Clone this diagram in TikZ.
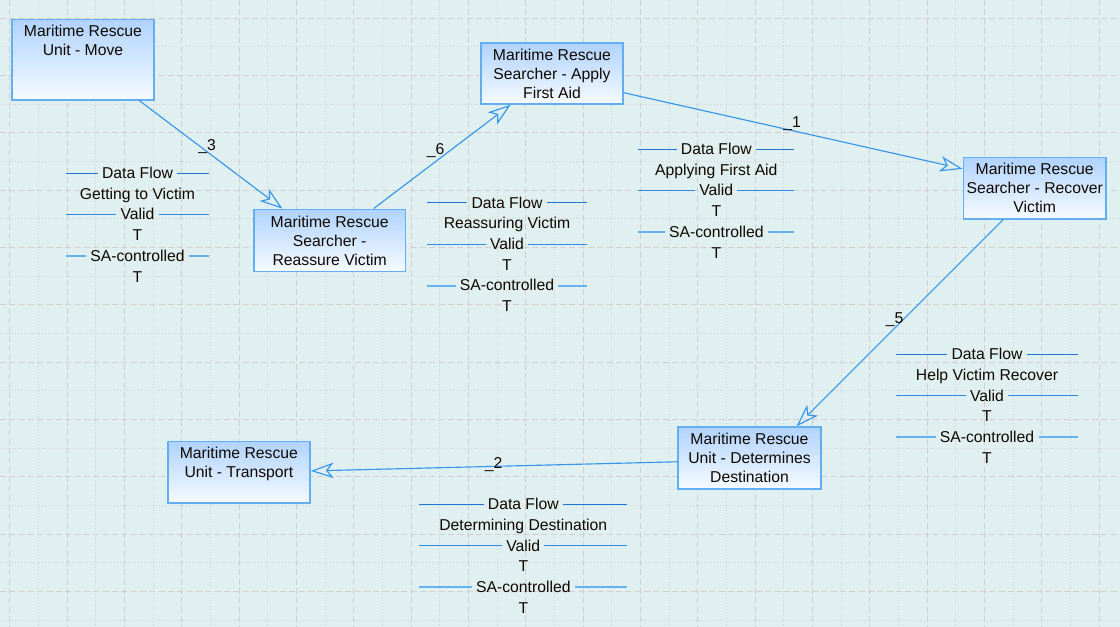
\documentclass[tikz,border=0pt]{standalone}
\usepackage{fontspec}
\setmainfont{Liberation Sans}
\usetikzlibrary{arrows.meta,calc}
\definecolor{bg}{RGB}{224,239,239}
\definecolor{gridc}{RGB}{212,206,208}
\definecolor{boxborder}{RGB}{98,174,240}
\definecolor{boxtop}{RGB}{176,211,255}
\definecolor{boxbot}{RGB}{246,251,255}
\definecolor{edgec}{RGB}{52,150,236}
\definecolor{dfc}{RGB}{26,120,218}
\definecolor{vac}{RGB}{40,140,232}
\definecolor{sac}{RGB}{100,178,240}
\definecolor{txt}{RGB}{16,8,0}
\newcommand{\dfblock}[6]{%
  \pgfmathsetmacro{\rA}{#3}%
  \pgfmathsetmacro{\rB}{#3+20.7}%
  \pgfmathsetmacro{\rC}{#3+41.4}%
  \pgfmathsetmacro{\rD}{#3+62.1}%
  \pgfmathsetmacro{\rE}{#3+82.8}%
  \pgfmathsetmacro{\rF}{#3+103.5}%
  \pgfmathsetmacro{\lA}{floor(\rA)+0.5}%
  \pgfmathsetmacro{\lC}{floor(\rC)+0.5}%
  \pgfmathsetmacro{\lE}{round(\rE)}%
  \node[rowtxt] (#1df) at (#2,\rA+5.5) {Data Flow};
  \node[rowtxt] (#1nm) at (#2,\rB+5.5) {#6};
  \node[rowtxt] (#1va) at (#2,\rC+5.5) {Valid};
  \node[rowtxt] (#1ta) at (#2,\rD+5.5) {T};
  \node[rowtxt] (#1sa) at (#2,\rE+5.5) {SA-controlled};
  \node[rowtxt] (#1tb) at (#2,\rF+5.5) {T};
  \coordinate (#1dfL) at (#4,\lA); \coordinate (#1dfR) at (#5,\lA);
  \coordinate (#1vaL) at (#4,\lC); \coordinate (#1vaR) at (#5,\lC);
  \coordinate (#1saL) at (#4,\lE); \coordinate (#1saR) at (#5,\lE);
  \draw[dfline] (#1dfL) -- (#1dfL -| #1df.west);
  \draw[dfline] (#1df.east |- #1dfR) -- (#1dfR);
  \draw[valine] (#1vaL) -- (#1vaL -| #1va.west);
  \draw[valine] (#1va.east |- #1vaR) -- (#1vaR);
  \draw[saline] (#1saL) -- (#1saL -| #1sa.west);
  \draw[saline] (#1sa.east |- #1saR) -- (#1saR);
}
\begin{document}
\begin{tikzpicture}[x=0.75pt,y=-0.75pt,
  font=\fontsize{11.8pt}{14.25pt}\selectfont,
  box/.style={draw=boxborder, line width=1.1pt, top color=boxtop, bottom color=boxbot,
    align=center, inner sep=0pt, text=txt},
  flow/.style={draw=edgec, line width=0.85pt,
    -{Stealth[open, length=17pt, width=11.5pt, inset=4.5pt]}},
  rowtxt/.style={anchor=base, inner xsep=3pt, inner ysep=0pt, text=txt},
  elabel/.style={anchor=base, inner sep=0pt, text=txt},
  dfline/.style={draw=dfc, line width=1pt},
  valine/.style={draw=vac, line width=1.1pt},
  saline/.style={draw=sac, line width=1.8pt},
  gdash/.style={draw=gridc, line width=0.75pt, dash pattern=on 4.5pt off 2.5pt},
  gdot/.style={draw=gridc, line width=0.75pt, dash pattern=on 0.75pt off 1.5pt}]
\useasboundingbox (0,0) rectangle (1120,627);
\fill[bg] (0,0) rectangle (1120,627);
% grid
\foreach \k in {0,...,18} {
  \draw[gdash] ({round(9.3+57.33*\k)+0.5},0) -- ({round(9.3+57.33*\k)+0.5},627);
  \draw[gdot] ({round(38+57.33*\k)+0.5},0) -- ({round(38+57.33*\k)+0.5},627);
}
\draw[gdash] ({round(9.3+57.33*19)+0.5},0) -- ({round(9.3+57.33*19)+0.5},627);
\foreach \k in {0,...,10} {
  \draw[gdash] (0,{round(17.6+57.33*\k)+0.5}) -- (1120,{round(17.6+57.33*\k)+0.5});
  \draw[gdot] (0,{round(46.3+57.33*\k)+0.5}) -- (1120,{round(46.3+57.33*\k)+0.5});
}
% nodes
\node[box, minimum width=106.5pt, minimum height=60.5pt] (move) at (83,59.7)
  {Maritime Rescue\\Unit - Move\\~\\~};
\node[box, minimum width=113.5pt, minimum height=46.8pt] (reassure) at (329.7,240.5)
  {Maritime Rescue\\Searcher -\\Reassure Victim};
\node[box, minimum width=106.5pt, minimum height=45.75pt] (apply) at (552,73.5)
  {Maritime Rescue\\Searcher - Apply\\First Aid};
\node[box, minimum width=107pt, minimum height=46.3pt] (recover) at (1034.7,188.2)
  {Maritime Rescue\\Searcher - Recover\\Victim};
\node[box, minimum width=107.25pt, minimum height=46.5pt] (determines) at (749.5,458)
  {Maritime Rescue\\Unit - Determines\\Destination};
\node[box, minimum width=106.7pt, minimum height=46.3pt] (transport) at (238.9,472.2)
  {Maritime Rescue\\Unit - Transport\\~};
% connectors
\draw[flow] (move.-36.9) -- (reassure.146.3);
\draw[flow] (reassure.36.3) -- (apply.-143.2);
\draw[flow] (apply.-15.1) -- (recover.165.9);
\draw[flow] (recover.-135.6) -- (determines.34.3);
\draw[flow] (determines.-177.8) -- (transport.1);
% connector labels
\node[elabel] (l3) at (207,150.7) {\_3};
\node[elabel] (l6) at (435.5,154.5) {\_6};
\node[elabel] (l1) at (792,127.3) {\_1};
\node[elabel] (l5) at (894.5,323.3) {\_5};
\node[elabel] (l2) at (493.5,468) {\_2};
% data flow blocks
\dfblock{ba}{137.5}{173}{66}{209.3}{Getting to Victim}
\dfblock{bb}{507}{202.7}{427.3}{586.7}{Reassuring Victim}
\dfblock{bc}{716.3}{149}{638.3}{794.3}{Applying First Aid}
\dfblock{bd}{987}{354.3}{896}{1078.3}{Help Victim Recover}
\dfblock{be}{523.3}{504.3}{419.3}{627.3}{Determining Destination}
\end{tikzpicture}
\end{document}
